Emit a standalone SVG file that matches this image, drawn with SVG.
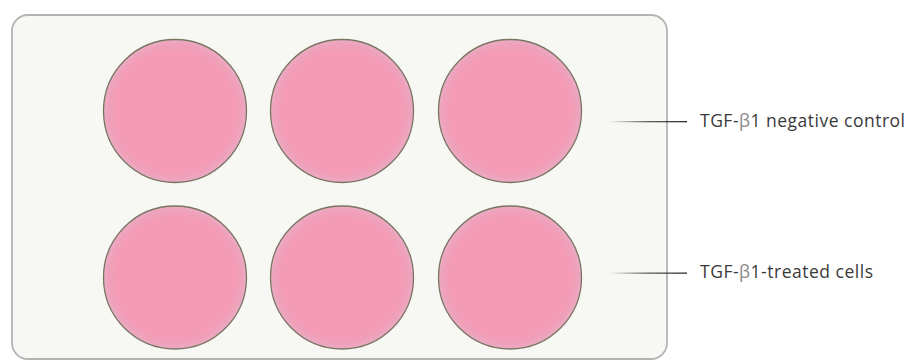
<svg xmlns="http://www.w3.org/2000/svg" width="907" height="360" viewBox="0 0 907 360">
<defs>
<radialGradient id="well" cx="0.5" cy="0.5" r="0.5">
<stop offset="0" stop-color="#f59ab6"/>
<stop offset="0.8" stop-color="#f59ab6"/>
<stop offset="0.93" stop-color="#f0a0ba"/>
<stop offset="1" stop-color="#e8adc4"/>
</radialGradient>
<linearGradient id="fade" x1="0" y1="0" x2="1" y2="0">
<stop offset="0" stop-color="#3a3a3a" stop-opacity="0"/>
<stop offset="0.5" stop-color="#3a3a3a" stop-opacity="0.8"/>
<stop offset="1" stop-color="#2a2a2a" stop-opacity="1"/>
</linearGradient>
</defs>
<style>
.well{fill:url(#well);stroke:#7c7462;stroke-width:1.3}
.lbl{font-family:"Open Sans","Liberation Sans",sans-serif;font-size:17.5px;fill:#3a3a3a}
.beta{fill:#8a8a8a}
</style>
<rect width="907" height="360" fill="#ffffff"/>
<g id="plate">
<rect x="12" y="15" width="655" height="344" rx="16" ry="16" fill="#f7f8f3" stroke="#b3b3b3" stroke-width="1.8"/>
</g>
<g id="well1"><circle class="well" cx="175" cy="111" r="71.5"/></g>
<g id="well2"><circle class="well" cx="342" cy="111" r="71.5"/></g>
<g id="well3"><circle class="well" cx="510" cy="111" r="71.5"/></g>
<g id="well4"><circle class="well" cx="175" cy="277.5" r="71.5"/></g>
<g id="well5"><circle class="well" cx="342" cy="277.5" r="71.5"/></g>
<g id="well6"><circle class="well" cx="510" cy="277.5" r="71.5"/></g>
<g id="connectors">
<rect x="609" y="121" width="78" height="1.3" fill="url(#fade)"/>
<rect x="609" y="272.5" width="78" height="1.3" fill="url(#fade)"/>
</g>
<g id="label1"><text class="lbl" x="700" y="126.5" textLength="205" lengthAdjust="spacing">TGF-<tspan class="beta">β</tspan>1 negative control</text></g>
<g id="label2"><text class="lbl" x="700" y="278" textLength="173" lengthAdjust="spacing">TGF-<tspan class="beta">β</tspan>1-treated cells</text></g>
</svg>
